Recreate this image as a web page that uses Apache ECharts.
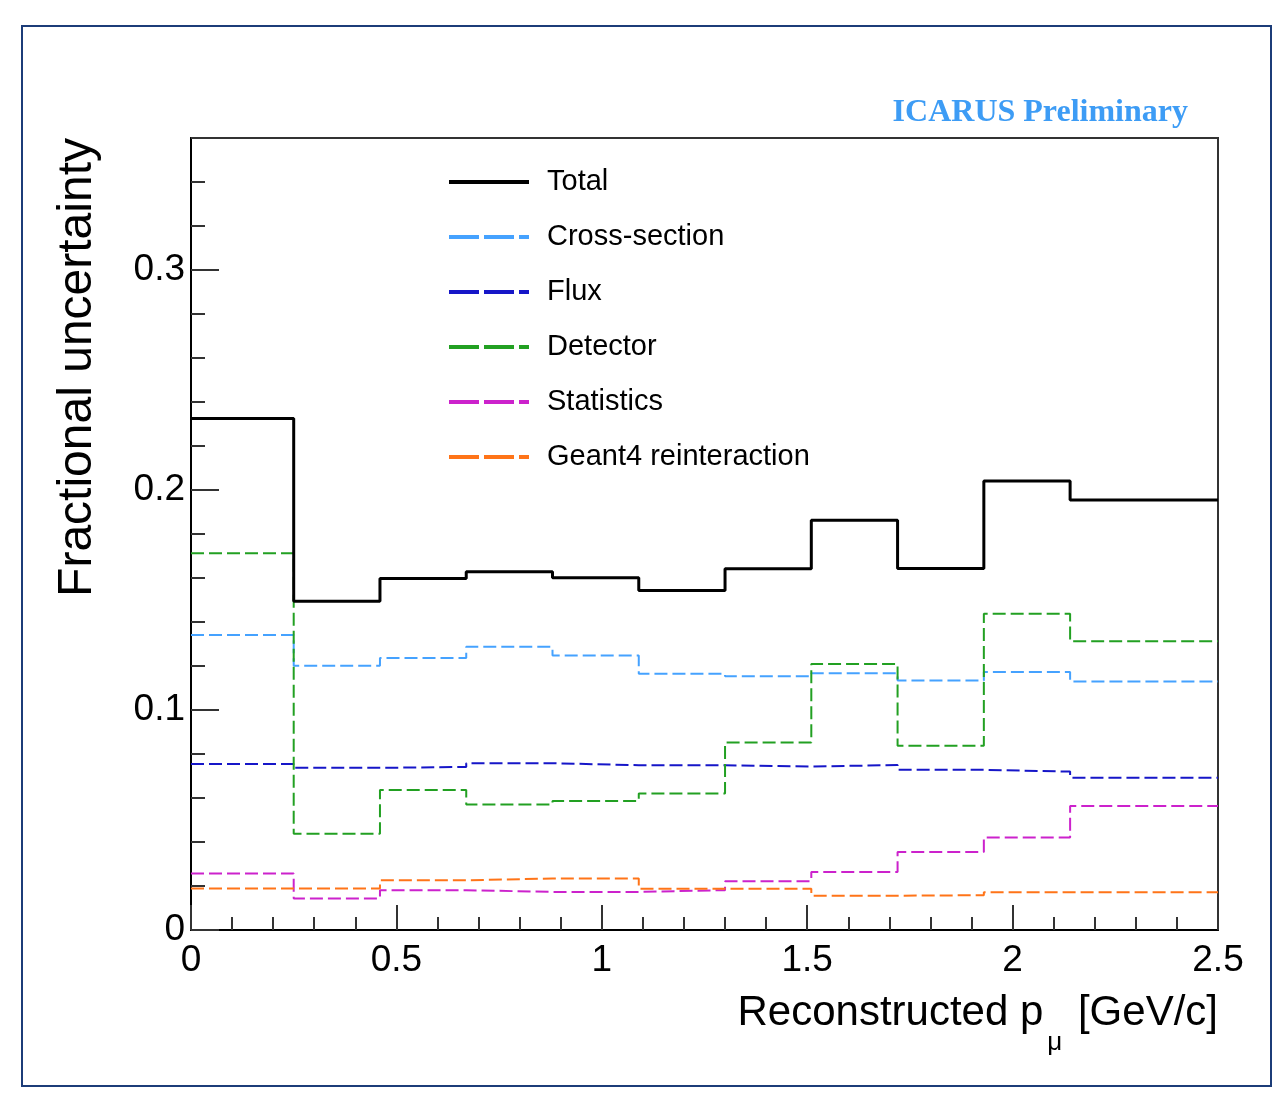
<!DOCTYPE html>
<html>
<head>
<meta charset="utf-8">
<script src="https://cdn.jsdelivr.net/npm/echarts@6/dist/echarts.min.js"></script>
<style>
  html, body { margin: 0; padding: 0; background: #fff; }
  #chart { width: 1276px; height: 1094px; }
</style>
</head>
<body>
<div id="chart"></div>
<script>
// bin edges of the reconstructed muon momentum histogram [GeV/c]
const binEdges = [0, 0.25, 0.46, 0.67, 0.88, 1.09, 1.30, 1.51, 1.72, 1.93, 2.14, 2.5]

// fractional uncertainty per bin
const total        = [0.2325, 0.1494, 0.1598, 0.1628, 0.1601, 0.1543, 0.1642, 0.1862, 0.1643, 0.2041, 0.1954]
const crossSection = [0.1341, 0.1201, 0.1236, 0.1287, 0.1248, 0.1165, 0.1153, 0.1167, 0.1134, 0.1173, 0.1130]
const flux         = [0.0754, 0.0737, 0.0741, 0.0758, 0.0749, 0.0749, 0.0743, 0.0750, 0.0728, 0.0720, 0.0692]
const detector     = [0.1712, 0.0437, 0.0636, 0.0571, 0.0586, 0.0621, 0.0852, 0.1209, 0.0838, 0.1437, 0.1312]
const statistics   = [0.0257, 0.0143, 0.0181, 0.0173, 0.0173, 0.0181, 0.0222, 0.0264, 0.0355, 0.0421, 0.0564]
const geant4       = [0.0189, 0.0189, 0.0226, 0.0234, 0.0234, 0.0187, 0.0187, 0.0156, 0.0158, 0.0172, 0.0172]

const seriesNames = ['Total', 'Cross-section', 'Flux', 'Detector', 'Statistics', 'Geant4 reinteraction']
const seriesValues = [total, crossSection, flux, detector, statistics, geant4]
const seriesColors = ['#000000', '#45a2ff', '#1616c8', '#22a022', '#cc22cc', '#ff7418']

const FONT = '"Liberation Sans", Arial, Helvetica, sans-serif'

// histogram outline: one point per lower edge, plus the last upper edge
const toSteps = (vals) => binEdges.map((e, i) => [e, vals[Math.min(i, vals.length - 1)]])

const chart = echarts.init(document.getElementById('chart'), null, { renderer: 'canvas' })

const series = seriesNames.map((name, i) => ({
  name,
  type: 'line',
  step: 'end',
  data: toSteps(seriesValues[i]),
  showSymbol: false,
  symbol: 'none',
  silent: true,
  z: i === 0 ? 3 : 2,
  lineStyle: {
    color: seriesColors[i],
    width: i === 0 ? 3 : 2,
    type: i === 0 ? 'solid' : [13, 5]
  },
  itemStyle: { color: seriesColors[i] }
}))

const option = {
  animation: false,
  backgroundColor: '#ffffff',
  title: {
    text: 'ICARUS Preliminary',
    right: 88,
    top: 97,
    padding: 0,
    textStyle: {
      fontFamily: '"Liberation Serif", "Times New Roman", serif',
      fontWeight: 'bold',
      fontSize: 32,
      color: '#3d9cf5'
    }
  },
  legend: {
    orient: 'vertical',
    left: 447,
    top: 167,
    padding: 0,
    itemWidth: 80,
    itemHeight: 30,
    itemGap: 25,
    selectedMode: false,
    itemStyle: { opacity: 0 },
    textStyle: {
      fontFamily: FONT,
      fontSize: 29,
      lineHeight: 30,
      color: '#000',
      padding: [0, 0, 0, 13]
    },
    data: seriesNames.map((name, i) => ({
      name,
      lineStyle: { width: 4, type: i === 0 ? 'solid' : [30, 5] }
    }))
  },
  grid: {
    left: 191,
    right: 58,
    top: 138,
    bottom: 164,
    show: true,
    borderColor: '#333',
    borderWidth: 2,
    containLabel: false
  },
  xAxis: {
    type: 'value',
    min: 0,
    max: 2.5,
    interval: 0.5,
    axisLine: { show: true, lineStyle: { color: '#000', width: 2 } },
    axisTick: { show: true, inside: true, length: 25, lineStyle: { color: '#333', width: 2 } },
    minorTick: { show: true, splitNumber: 5, length: 13, lineStyle: { color: '#333', width: 2 } },
    splitLine: { show: false },
    axisLabel: { margin: 12, fontFamily: FONT, fontSize: 37, color: '#000' }
  },
  yAxis: [
    {
      // minor ticks every 0.02, labels only on the 0.1 marks
      type: 'value',
      min: 0,
      max: 0.36,
      interval: 0.02,
      axisLine: { show: true, lineStyle: { color: '#000', width: 2 } },
      axisTick: { show: true, inside: true, length: 14, lineStyle: { color: '#333', width: 2 } },
      splitLine: { show: false },
      axisLabel: {
        margin: 6,
        fontFamily: FONT,
        fontSize: 37,
        color: '#000',
        formatter: (v) => {
          const k = Math.round(v * 100)
          return k % 10 === 0 ? String(k / 100) : ''
        }
      }
    },
    {
      // long ticks on the 0.1 marks
      type: 'value',
      position: 'left',
      min: 0,
      max: 0.36,
      interval: 0.1,
      axisLine: { show: false },
      axisTick: { show: true, inside: true, length: 28, lineStyle: { color: '#333', width: 2 } },
      splitLine: { show: false },
      axisLabel: { show: false }
    }
  ],
  graphic: [
    {
      type: 'rect',
      shape: { x: 22, y: 26, width: 1249, height: 1060 },
      style: { fill: 'none', stroke: '#1c3c78', lineWidth: 2 },
      silent: true
    },
    {
      type: 'text',
      x: 102,
      y: 138,
      rotation: Math.PI / 2,
      style: {
        text: 'Fractional uncertainty',
        font: '48px ' + FONT,
        fill: '#000',
        align: 'right',
        verticalAlign: 'bottom'
      },
      silent: true
    },
    {
      type: 'text',
      x: 1218,
      y: 970,
      style: {
        text: '{a|Reconstructed p}{s|μ}{a| [GeV/c]}',
        align: 'right',
        verticalAlign: 'top',
        fill: '#000',
        rich: {
          a: { fontFamily: FONT, fontSize: 42, lineHeight: 86, color: '#000' },
          s: { fontFamily: FONT, fontSize: 26, lineHeight: 86, verticalAlign: 'bottom', color: '#000', padding: [0, 4, 0, 4] }
        }
      },
      silent: true
    }
  ],
  series
}

chart.setOption(option)
window.addEventListener('resize', () => chart.resize())
</script>
</body>
</html>
